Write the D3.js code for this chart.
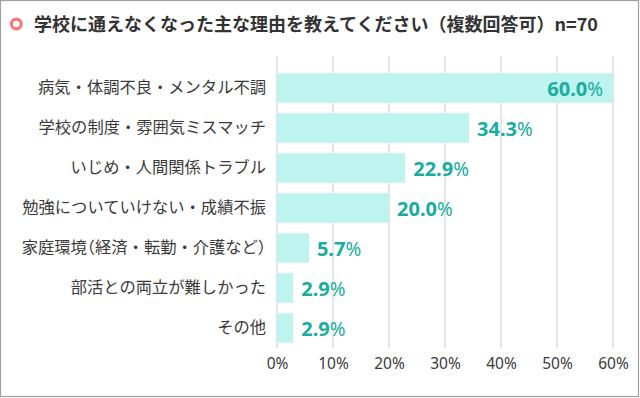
<!DOCTYPE html>
<html>
<head>
<meta charset="utf-8">
<script src="https://cdn.jsdelivr.net/npm/d3@7"></script>
<style>
  body { margin: 0; background: #fff; }
  svg { display: block; font-family: "Noto Sans CJK JP", "Noto Sans", sans-serif; }
  .halt { font-feature-settings: "halt"; }
</style>
</head>
<body>
<div id="chart"></div>
<script>
// data
var categories = [
  "病気・体調不良・メンタル不調",
  "学校の制度・雰囲気ミスマッチ",
  "いじめ・人間関係トラブル",
  "勉強についていけない・成績不振",
  "家庭環境（経済・転勤・介護など）",
  "部活との両立が難しかった",
  "その他"
];
var values = [60.0, 34.3, 22.9, 20.0, 5.7, 2.9, 2.9];
var tickValues = [0, 10, 20, 30, 40, 50, 60];
var title = "学校に通えなくなった主な理由を教えてください（複数回答可）n=70";

var svgWidth = 640, svgHeight = 398;
var margin = {top: 68, right: 27, bottom: 50, left: 277};
var width = svgWidth - margin.left - margin.right;
var height = svgHeight - margin.top - margin.bottom;

var svg = d3.select("#chart").append("svg")
  .attr("width", svgWidth)
  .attr("height", svgHeight);

// frame
svg.append("rect")
  .attr("x", 0.5).attr("y", 0.5)
  .attr("width", 638).attr("height", 396)
  .attr("fill", "#fff")
  .attr("stroke", "#a0a0a0")
  .attr("stroke-width", 1.2);

// title with ring marker
svg.append("circle")
  .attr("cx", 16.3).attr("cy", 24).attr("r", 4.9)
  .attr("fill", "none")
  .attr("stroke", "#f27878")
  .attr("stroke-width", 3.2);

svg.append("text")
  .attr("x", 34).attr("y", 31)
  .attr("font-size", 18)
  .attr("font-weight", "bold")
  .attr("fill", "#333")
  .text(title);

var chartGroup = svg.append("g")
  .attr("transform", `translate(${margin.left}, ${margin.top})`);

var x = d3.scaleLinear().domain([0, 60]).range([0, width]);
var y = d3.scaleBand().domain(categories).range([0, height]).paddingInner(0.26).paddingOuter(0.13);

// grid lines
chartGroup.selectAll(".grid")
  .data(tickValues)
  .enter().append("line")
  .attr("x1", d => x(d)).attr("x2", d => x(d))
  .attr("y1", -12).attr("y2", height)
  .attr("stroke", "#cccccc")
  .attr("stroke-width", 1);

// bars
chartGroup.selectAll(".bar")
  .data(values)
  .enter().append("rect")
  .attr("x", 0)
  .attr("y", (d, i) => y(categories[i]))
  .attr("width", d => x(d))
  .attr("height", y.bandwidth())
  .attr("fill", "#bdf4f0");

// value labels
var labels = chartGroup.selectAll(".val")
  .data(values)
  .enter().append("text")
  .attr("y", (d, i) => y(categories[i]) + y.bandwidth() / 2 + 7.5)
  .attr("x", d => d >= 50 ? x(d) - 10 : x(d) + 8)
  .attr("text-anchor", d => d >= 50 ? "end" : "start")
  .attr("fill", "#17ada0")
  .attr("font-family", "'Noto Sans', sans-serif")
  .attr("font-size", 20)
  .attr("font-weight", "bold");
labels.append("tspan").text(d => d.toFixed(1));
labels.append("tspan").attr("font-size", 19).attr("font-weight", "normal").text("%");

// category labels (brackets kept narrow like the original)
var yAxis = d3.axisLeft(y).tickSize(0).tickPadding(11);
var yg = chartGroup.append("g").call(yAxis);
yg.select(".domain").remove();
yg.selectAll("text")
  .attr("font-size", 16.3)
  .attr("fill", "#3a3a3a")
  .attr("font-family", "'Noto Sans CJK JP', sans-serif")
  .each(function(d) {
    var el = d3.select(this).text(null);
    d.split(/([（）])/).forEach(function(part) {
      if (!part) return;
      var t = el.append("tspan").text(part);
      if (part === "（" || part === "）") t.attr("class", "halt");
    });
  });

// x axis
var xAxis = d3.axisBottom(x).tickValues(tickValues).tickSize(0).tickPadding(10).tickFormat(d => d + "%");
var xg = chartGroup.append("g")
  .attr("transform", `translate(0, ${height})`)
  .call(xAxis);
xg.select(".domain").remove();
xg.selectAll("text")
  .attr("font-size", 15.5)
  .attr("fill", "#3a3a3a")
  .attr("font-family", "'Noto Sans', sans-serif");
</script>
</body>
</html>
